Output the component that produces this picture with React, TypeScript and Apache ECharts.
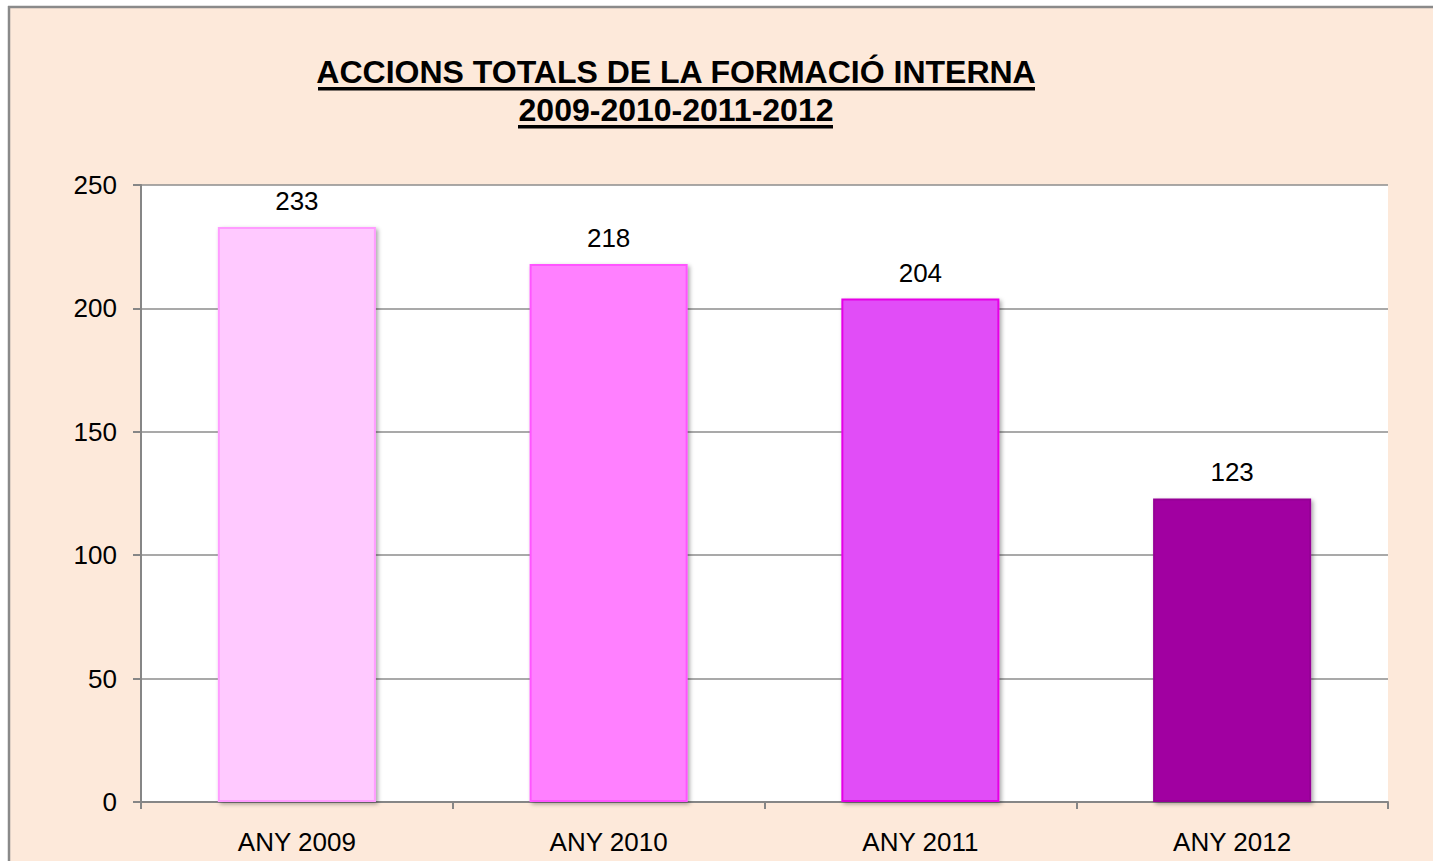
import React, { useEffect, useRef } from "react";
import * as echarts from "echarts";

const categories = ["ANY 2009", "ANY 2010", "ANY 2011", "ANY 2012"];
const values = [233, 218, 204, 123];
const barColors = ["#FFC9FF", "#FF80FF", "#E14EF7", "#A100A1"];
const barBorders = ["#FF9CFF", "#FF55FF", "#E600E6", "#960096"];
const titleLines = ["ACCIONS TOTALS DE LA FORMACIÓ INTERNA", "2009-2010-2011-2012"];
const yTicks = { min: 0, max: 250, interval: 50 };

const FONT = '"Liberation Sans", Arial, Helvetica, sans-serif';

export default function App() {
  const ref = useRef<HTMLDivElement>(null);
  useEffect(() => {
    document.body.style.overflow = "hidden";
    document.documentElement.style.overflow = "hidden";
    const chart = echarts.init(ref.current!, null, { renderer: "svg" });
    chart.setOption({
      animation: false,
      backgroundColor: "#ffffff",
      graphic: [
        {
          type: "rect",
          z: -10,
          silent: true,
          shape: { x: 9, y: 7, width: 1440, height: 870 },
          style: { fill: "#FDE9DA" },
        },
        {
          type: "line",
          silent: true,
          shape: { x1: 8, y1: 7, x2: 1433, y2: 7 },
          style: { stroke: "#8A8A8A", lineWidth: 2.5 },
        },
        {
          type: "line",
          silent: true,
          shape: { x1: 9, y1: 6, x2: 9, y2: 861 },
          style: { stroke: "#8A8A8A", lineWidth: 2.5 },
        },
        {
          type: "text",
          x: 676,
          y: 56,
          style: {
            text: titleLines[0],
            font: `bold 32px ${FONT}`,
            fill: "#000",
            textAlign: "center",
            textVerticalAlign: "top",
          },
        },
        {
          type: "text",
          x: 676,
          y: 94,
          style: {
            text: titleLines[1],
            font: `bold 32px ${FONT}`,
            fill: "#000",
            textAlign: "center",
            textVerticalAlign: "top",
          },
        },
        {
          type: "rect",
          shape: { x: 318, y: 87, width: 717, height: 3.5 },
          style: { fill: "#000" },
        },
        {
          type: "rect",
          shape: { x: 518, y: 125, width: 315, height: 3.5 },
          style: { fill: "#000" },
        },
      ],
      grid: {
        left: 141,
        top: 185,
        right: 45,
        bottom: 59,
        show: true,
        backgroundColor: "#ffffff",
        borderWidth: 0,
      },
      xAxis: {
        type: "category",
        data: categories,
        axisLine: { lineStyle: { color: "#868686", width: 2 } },
        axisTick: { show: true, length: 7, alignWithLabel: false, lineStyle: { color: "#868686", width: 2 } },
        axisLabel: { color: "#000", fontSize: 26, fontFamily: FONT, margin: 27 },
      },
      yAxis: {
        type: "value",
        min: yTicks.min,
        max: yTicks.max,
        interval: yTicks.interval,
        axisLine: { show: true, lineStyle: { color: "#868686", width: 2 } },
        axisTick: { show: true, length: 8, lineStyle: { color: "#868686", width: 2 } },
        axisLabel: { color: "#000", fontSize: 26, fontFamily: FONT, margin: 24 },
        splitLine: { lineStyle: { color: "#8C8C8C", width: 1.5 } },
      },
      series: [
        {
          type: "bar",
          barWidth: "50.7%",
          data: values.map((v, i) => ({
            value: v,
            itemStyle: {
              color: barColors[i],
              borderColor: barBorders[i],
              borderWidth: 2,
              shadowColor: "rgba(0,0,0,0.35)",
              shadowBlur: 4,
              shadowOffsetX: 2,
              shadowOffsetY: 2,
            },
          })),
          label: {
            show: true,
            position: "top",
            distance: 13,
            color: "#000",
            fontSize: 26,
            fontFamily: FONT,
          },
        },
      ],
    });
    return () => chart.dispose();
  }, []);
  return (
    <div
      ref={ref}
      style={{ position: "fixed", left: 0, top: 0, width: 1433, height: 861 }}
    />
  );
}
